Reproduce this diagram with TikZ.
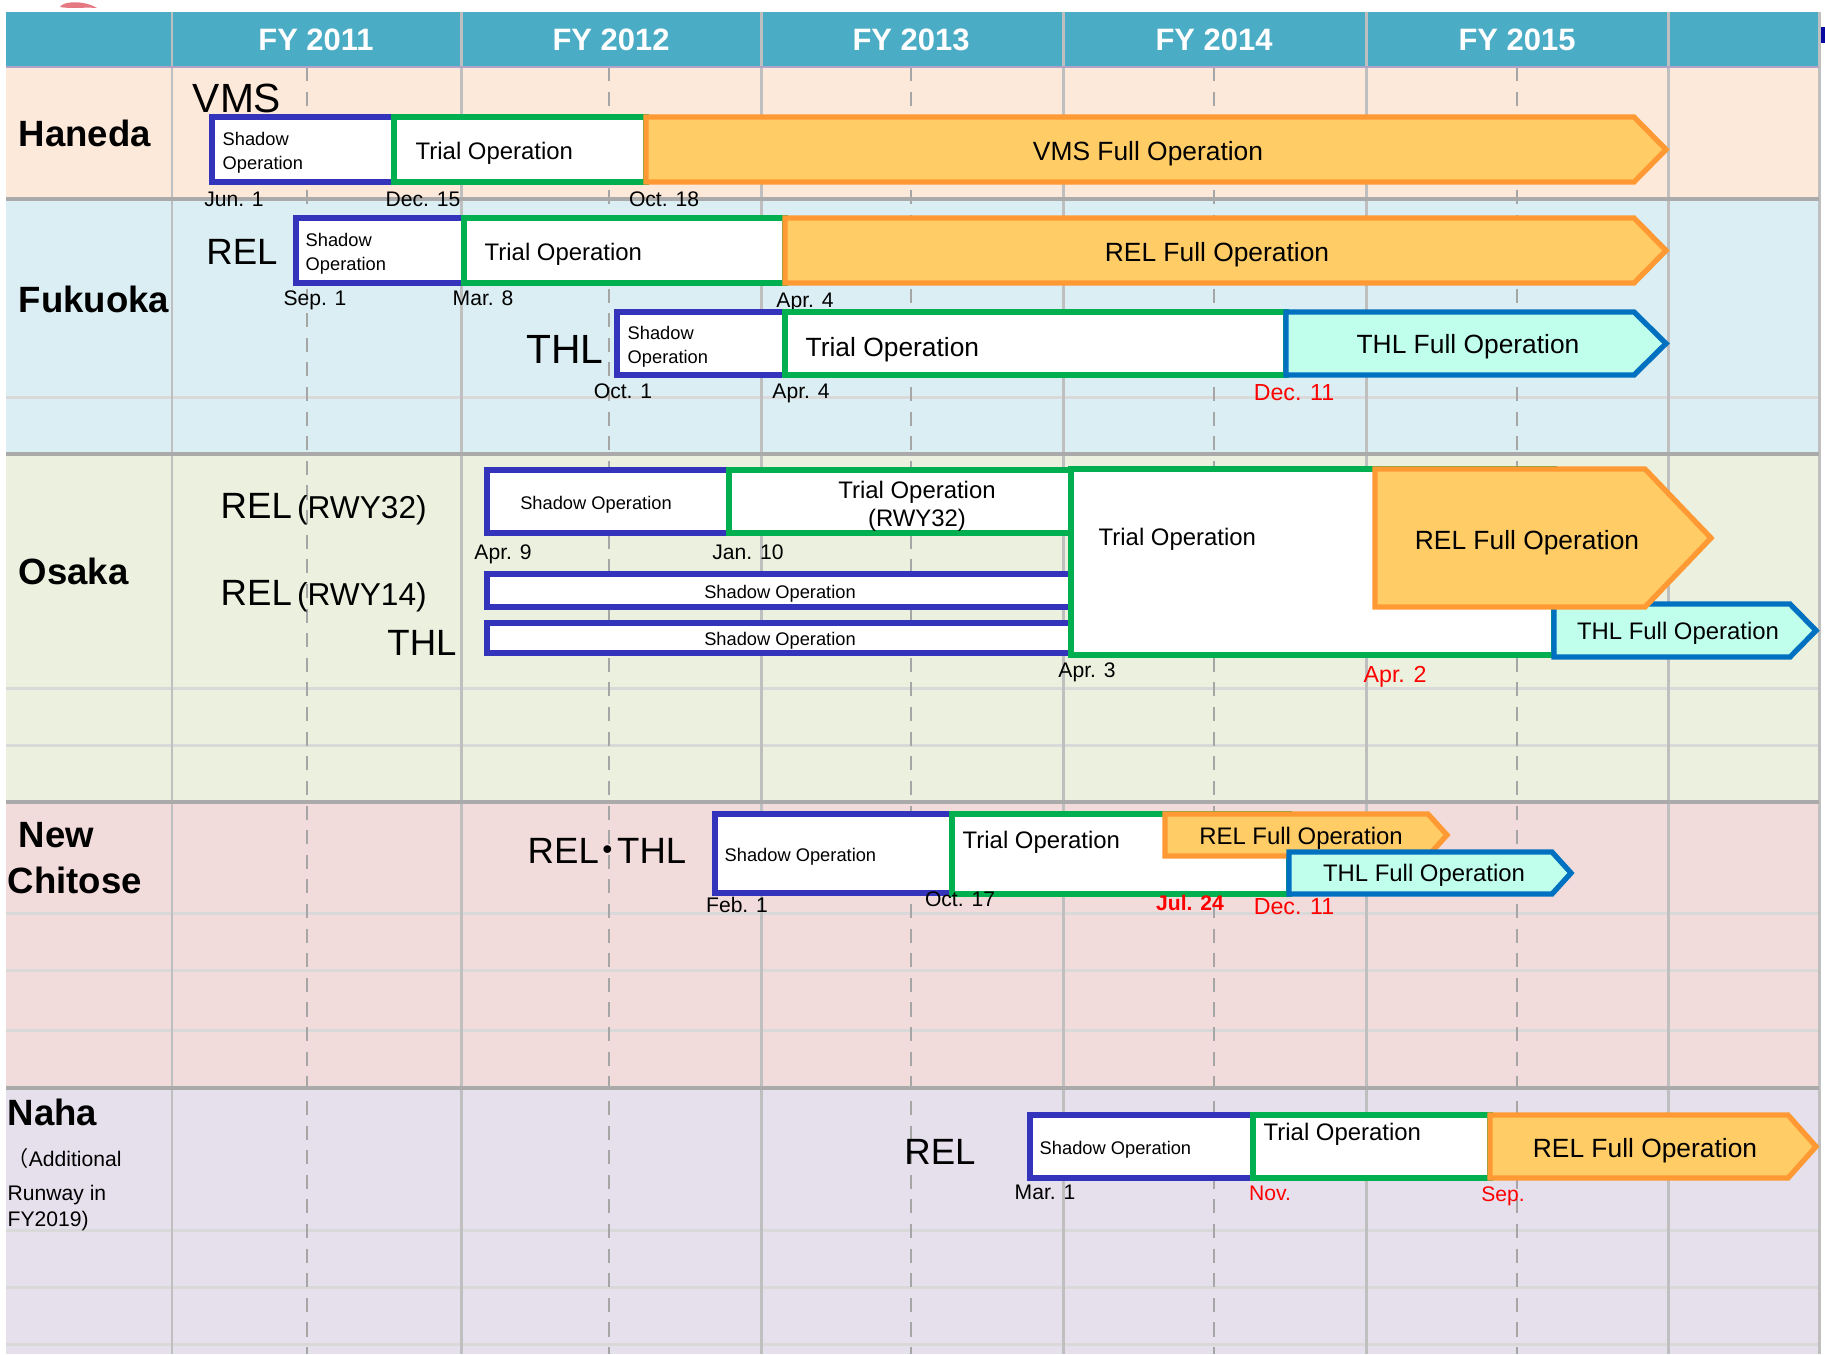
\documentclass[tikz,border=0pt]{standalone}
\usepackage{fontspec}
\setmainfont{Liberation Sans}
\newfontfamily\cjkfont{Noto Sans CJK JP}

\definecolor{headteal}{RGB}{75,172,198}
\definecolor{headline}{RGB}{179,162,199}
\definecolor{hanedabg}{RGB}{253,233,217}
\definecolor{fukuokabg}{RGB}{218,238,243}
\definecolor{osakabg}{RGB}{235,241,222}
\definecolor{chitosebg}{RGB}{242,220,219}
\definecolor{nahabg}{RGB}{229,224,236}
\definecolor{gridgray}{RGB}{191,191,191}
\definecolor{rowgray}{RGB}{170,170,170}
\definecolor{subgray}{RGB}{217,217,217}
\definecolor{dashgray}{RGB}{166,166,166}
\definecolor{shadowblue}{RGB}{51,51,187}
\definecolor{trialgreen}{RGB}{0,176,80}
\definecolor{fullorange}{RGB}{255,153,51}
\definecolor{fullyellow}{RGB}{255,204,102}
\definecolor{thlblue}{RGB}{0,112,192}
\definecolor{thlmint}{RGB}{192,255,236}
\definecolor{datered}{RGB}{255,0,0}
\definecolor{pinkmark}{RGB}{230,120,130}
\definecolor{navymark}{RGB}{10,10,160}

\begin{document}
\begin{tikzpicture}[x=0.01cm,y=-0.01cm,line join=miter]

    % let's define some key values
    \def\xleft{6}
    \def\xright{1819}
    \def\ytop{12}
    \def\yhead{67}
    \def\ybottom{1354}

    % Styles
    \tikzstyle{yearline}=[draw=gridgray, line width=0.85pt]
    \tikzstyle{halfline}=[draw=dashgray, line width=0.55pt, dash pattern=on 4pt off 3pt]
    \tikzstyle{rowline}=[draw=rowgray, line width=1.1pt]
    \tikzstyle{subline}=[draw=subgray, line width=0.85pt]
    \tikzstyle{shadowbar}=[draw=shadowblue, fill=white, line width=1.5pt]
    \tikzstyle{trialbar}=[draw=trialgreen, fill=white, line width=1.5pt]
    \tikzstyle{relbar}=[draw=fullorange, fill=fullyellow, line width=1.5pt]
    \tikzstyle{thlbar}=[draw=thlblue, fill=thlmint, line width=1.5pt]
    \tikzstyle{year}=[font=\fontsize{8.8}{10}\selectfont\bfseries, text=white, inner sep=0pt]
    \tikzstyle{airport}=[font=\fontsize{10.4}{13.1}\selectfont\bfseries, anchor=west, inner sep=0pt]
    \tikzstyle{system}=[font=\fontsize{10.4}{12}\selectfont, inner sep=0pt, text depth=0pt]
    \tikzstyle{note}=[font=\fontsize{6}{7}\selectfont, anchor=west, inner sep=0pt, text depth=0pt]
    \tikzstyle{date}=[font=\fontsize{6}{7}\selectfont, inner sep=0pt, text depth=0pt]
    \tikzstyle{reddate}=[date, text=datered]
    \tikzstyle{shadowtext}=[font=\fontsize{5.2}{6.8}\selectfont, inner sep=0pt, text depth=0pt]
    \tikzstyle{trialtext}=[font=\fontsize{6.8}{8}\selectfont, inner sep=0pt, text depth=0pt]
    \tikzstyle{fulltext}=[font=\fontsize{7.5}{9}\selectfont, inner sep=0pt, text depth=0pt]

    \useasboundingbox (0,0) rectangle (1825,1354);

    % row backgrounds
    \fill[hanedabg] (\xleft,\yhead) rectangle (\xright,199);
    \fill[fukuokabg] (\xleft,199) rectangle (\xright,454);
    \fill[osakabg] (\xleft,454) rectangle (\xright,802);
    \fill[chitosebg] (\xleft,802) rectangle (\xright,1088);
    \fill[nahabg] (\xleft,1088) rectangle (\xright,\ybottom);
    \fill[headteal] (\xleft,\ytop) rectangle (\xright,\yhead);

    % marks cut by the top and right edges
    \fill[pinkmark] (60,7) .. controls (63,1) and (84,0) .. (97,8) .. controls (84,7) and (70,9) .. (60,7) -- cycle;
    \fill[navymark] (1820,27) rectangle (1825,43);

    % grid
    \foreach \y in {397,688,745,913,970,1030,1230,1287,1344}
        \draw[subline] (\xleft,\y) -- (\xright,\y);
    \foreach \x in {307,609,911,1214,1517}
        \draw[halfline] (\x,\yhead) -- (\x,\ybottom);
    \foreach \x in {172,461,761,1063,1366,1668,\xright}
        \draw[yearline] (\x,\ytop) -- (\x,\ybottom);
    \foreach \y in {199,454,802,1088}
        \draw[rowline] (\xleft,\y) -- (\xright,\y);
    \draw[headline, line width=0.85pt] (\xleft,\yhead) -- (\xright,\yhead);

    % fiscal years
    \foreach \x/\yr in {316/2011,611/2012,911/2013,1214/2014,1517/2015}
        \node[year] (fy\yr) at (\x,40) {FY \yr};

    % airports
    \node[airport] (haneda) at (18,133) {Haneda};
    \node[airport] (fukuoka) at (18,299) {Fukuoka};
    \node[airport] (osaka) at (18,571) {Osaka};
    \node[airport, align=left] (newchitose) at (7,858) {\hspace*{0.3em}New\\Chitose};
    \node[airport] (naha) at (7,1112) {Naha};
    \node[note] (nahanote1) at (7,1157) {{\cjkfont （}Additional};
    \node[note] (nahanote2) at (7,1193) {Runway in};
    \node[note] (nahanote3) at (7,1219) {FY2019)};

    % Haneda VMS
    \node[system, font=\fontsize{11.6}{13}\selectfont] (hanedavms) at (237,98) {VMS};
    \draw[shadowbar] (212,117) rectangle (394,182);
    \draw[trialbar] (394,117) rectangle (646,182);
    \draw[relbar] (646,117) -- (1634,117) -- (1666,149.5) -- (1634,182) -- (646,182) -- cycle;
    \node[shadowtext, anchor=west, align=left] (hanedashadow) at (222,151) {Shadow\\Operation};
    \node[trialtext, anchor=west] (hanedatrial) at (415,151) {Trial Operation};
    \node[fulltext] (hanedafull) at (1148,151) {VMS Full Operation};
    \node[date] (hanedajun) at (234,199) {Jun. 1};
    \node[date] (hanedadec) at (423,199) {Dec. 15};
    \node[date] (hanedaoct) at (664,199) {Oct. 18};

    % Fukuoka REL
    \node[system] (fukuokarel) at (242,252) {REL};
    \draw[shadowbar] (296,218) rectangle (464,283);
    \draw[trialbar] (464,218) rectangle (785,283);
    \draw[relbar] (785,218) -- (1634,218) -- (1666,250.5) -- (1634,283) -- (785,283) -- cycle;
    \node[shadowtext, anchor=west, align=left] (fukuokarelshadow) at (305,252) {Shadow\\Operation};
    \node[trialtext, anchor=west] (fukuokareltrial) at (484,252) {Trial Operation};
    \node[fulltext] (fukuokarelfull) at (1217,252) {REL Full Operation};
    \node[date] (fukuokasep) at (315,298) {Sep. 1};
    \node[date] (fukuokamar) at (483,298) {Mar. 8};
    \node[date] (fukuokaapr) at (805,300) {Apr. 4};

    % Fukuoka THL
    \node[system, font=\fontsize{11.6}{13}\selectfont] (fukuokathl) at (565,349) {THL};
    \draw[shadowbar] (617,312) rectangle (785,375);
    \draw[trialbar] (785,312) rectangle (1286,375);
    \draw[thlbar] (1286,312) -- (1634,312) -- (1666,343.5) -- (1634,375) -- (1286,375) -- cycle;
    \node[shadowtext, anchor=west, align=left] (fukuokathlshadow) at (627,345) {Shadow\\Operation};
    \node[fulltext, anchor=west] (fukuokathltrial) at (805,347) {Trial Operation};
    \node[fulltext] (fukuokathlfull) at (1468,344) {THL Full Operation};
    \node[date] (fukuokaoct) at (623,391) {Oct. 1};
    \node[date] (fukuokaapr2) at (801,391) {Apr. 4};
    \node[reddate, font=\fontsize{6.6}{8}\selectfont] (fukuokadec) at (1294,393) {Dec. 11};

    % Osaka
    \node[system, anchor=west] (osakarel32) at (220,506) {REL{\fontsize{9}{10}\selectfont\,(RWY32)}};
    \node[system, anchor=west] (osakarel14) at (220,593) {REL{\fontsize{9}{10}\selectfont\,(RWY14)}};
    \node[system] (osakathl) at (422,643) {THL};
    \draw[shadowbar] (487,470) rectangle (729,533);
    \draw[trialbar] (729,470) rectangle (1071,533);
    \draw[shadowbar] (487,574) rectangle (1071,607);
    \draw[shadowbar] (487,623) rectangle (1071,653);
    \draw[trialbar] (1071,469) rectangle (1554,655);
    \draw[thlbar] (1554,604) -- (1790,604) -- (1816,630.5) -- (1790,657) -- (1554,657) -- cycle;
    \draw[relbar] (1375,469) -- (1645,469) -- (1711,538) -- (1645,607) -- (1375,607) -- cycle;
    \node[shadowtext] (osaka32shadow) at (596,503) {Shadow Operation};
    \node[trialtext, align=center] (osaka32trial) at (917,504) {Trial Operation\\(RWY32)};
    \node[shadowtext] (osaka14shadow) at (780,592) {Shadow Operation};
    \node[shadowtext] (osakathlshadow) at (780,639) {Shadow Operation};
    \node[trialtext, anchor=west] (osakatrial) at (1098,537) {Trial Operation};
    \node[fulltext] (osakarelfull) at (1527,540) {REL Full Operation};
    \node[trialtext] (osakathlfull) at (1678,631) {THL Full Operation};
    \node[date] (osakaapr9) at (503,552) {Apr. 9};
    \node[date] (osakajan) at (748,552) {Jan. 10};
    \node[date] (osakaapr3) at (1087,670) {Apr. 3};
    \node[reddate, font=\fontsize{6.6}{8}\selectfont] (osakaapr2) at (1395,674) {Apr. 2};

    % New Chitose
    \node[system] (chitosesys) at (607,851) {REL\kern-0.25em{\cjkfont ・}\kern-0.25em THL};
    \draw[shadowbar] (715,814) rectangle (952,893);
    \draw[trialbar] (952,814) rectangle (1289,894);
    \draw[relbar] (1165,814) -- (1428,814) -- (1447,835) -- (1428,856) -- (1165,856) -- cycle;
    \draw[thlbar] (1289,852) -- (1552,852) -- (1571,873) -- (1552,894) -- (1289,894) -- cycle;
    \node[shadowtext, anchor=west] (chitoseshadow) at (724,855) {Shadow Operation};
    \node[trialtext, anchor=west] (chitosetrial) at (962,840) {Trial Operation};
    \node[trialtext] (chitoserelfull) at (1301,836) {REL Full Operation};
    \node[trialtext] (chitosethlfull) at (1424,873) {THL Full Operation};
    \node[date] (chitosefeb) at (737,905) {Feb. 1};
    \node[date] (chitoseoct) at (960,899) {Oct. 17};
    \node[reddate, font=\fontsize{6}{7}\selectfont\bfseries] (chitosejul) at (1190,903) {Jul. 24};
    \node[reddate, font=\fontsize{6.6}{8}\selectfont] (chitosedec) at (1294,906) {Dec. 11};

    % Naha
    \node[system] (naharel) at (940,1152) {REL};
    \draw[shadowbar] (1030,1115) rectangle (1253,1178);
    \draw[trialbar] (1253,1115) rectangle (1490,1178);
    \draw[relbar] (1490,1115) -- (1788,1115) -- (1816,1146.5) -- (1788,1178) -- (1490,1178) -- cycle;
    \node[shadowtext, anchor=west] (nahashadow) at (1039,1148) {Shadow Operation};
    \node[trialtext, anchor=west] (nahatrial) at (1263,1132) {Trial Operation};
    \node[fulltext] (naharelfull) at (1645,1148) {REL Full Operation};
    \node[date] (nahamar) at (1045,1192) {Mar. 1};
    \node[reddate] (nahanov) at (1270,1193) {Nov.};
    \node[reddate] (nahasep) at (1503,1194) {Sep.};

\end{tikzpicture}
\end{document}
